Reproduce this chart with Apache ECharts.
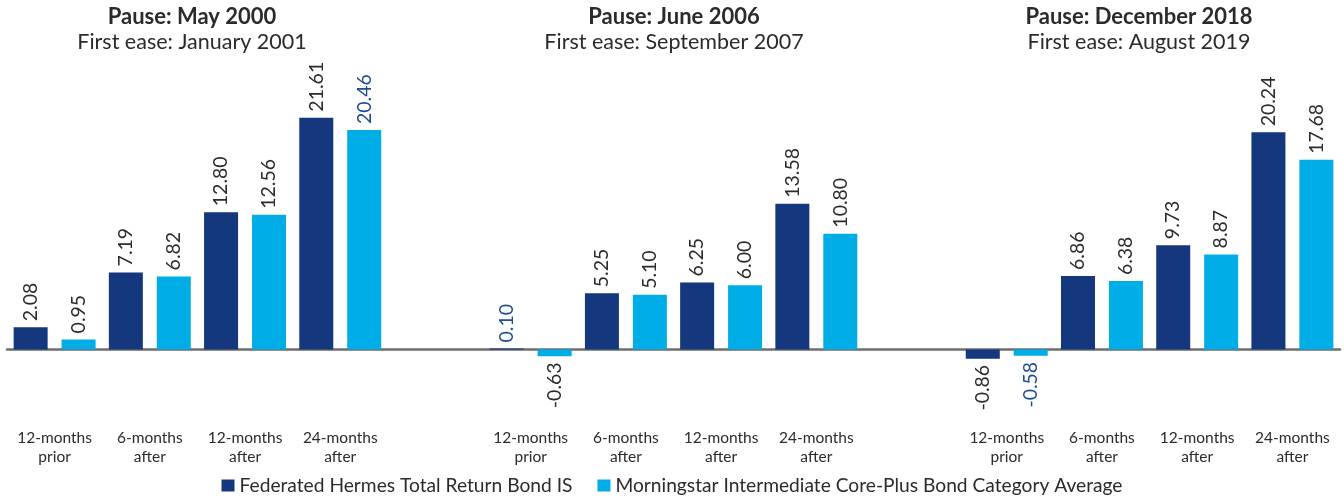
<!DOCTYPE html>
<html>
<head>
<meta charset="utf-8">
<script src="https://cdn.jsdelivr.net/npm/echarts@6/dist/echarts.min.js"></script>
<style>
  html, body { margin: 0; padding: 0; background: #fff; }
  #chart { width: 1344px; height: 501px; }
</style>
</head>
<body>
<div id="chart"></div>
<script>
// ---- Data ----
const categories = [
  '12-months\nprior', '6-months\nafter', '12-months\nafter', '24-months\nafter', '',
  '12-months\nprior', '6-months\nafter', '12-months\nafter', '24-months\nafter', '',
  '12-months\nprior', '6-months\nafter', '12-months\nafter', '24-months\nafter'
];
const fundName = 'Federated Hermes Total Return Bond IS';
const avgName = 'Morningstar Intermediate Core-Plus Bond Category Average';
const fundValues = [2.08, 7.19, 12.80, 21.61, null, 0.10, 5.25, 6.25, 13.58, null, -0.86, 6.86, 9.73, 20.24];
const avgValues  = [0.95, 6.82, 12.56, 20.46, null, -0.63, 5.10, 6.00, 10.80, null, -0.58, 6.38, 8.87, 17.68];
const groupTitles = ['Pause: May 2000', 'Pause: June 2006', 'Pause: December 2018'];
const groupSubtitles = ['First ease: January 2001', 'First ease: September 2007', 'First ease: August 2019'];
// labels drawn in blue in the reference
const fundBlueLabels = [5];
const avgBlueLabels = [3, 10];

// ---- Styling ----
const FONT = 'Lato';
const NAVY = '#14377D';
const CYAN = '#00ADE6';
const TEXT = '#2b2b2b';
const LABEL_BLUE = '#1F4B93';

function buildData(values, blueIdx) {
  return values.map((v, i) => {
    if (v === null) return '-';
    const neg = v < 0;
    return {
      value: v,
      label: {
        show: true,
        position: neg ? 'bottom' : 'top',
        rotate: 90,
        align: neg ? 'right' : 'left',
        verticalAlign: 'middle',
        distance: 6,
        color: blueIdx.includes(i) ? LABEL_BLUE : TEXT,
        fontFamily: FONT,
        fontSize: 19.5,
        formatter: (p) => Number(p.value).toFixed(2)
      }
    };
  });
}

const titleCenters = [187, 669, 1134];
const titles = groupTitles.map((t, i) => ({
  text: t,
  subtext: groupSubtitles[i],
  left: titleCenters[i],
  top: 1,
  textAlign: 'center',
  itemGap: 3,
  textStyle: { fontFamily: FONT, fontSize: 22, fontWeight: 'bold', color: TEXT },
  subtextStyle: { fontFamily: FONT, fontSize: 21.5, color: TEXT }
}));

const chart = echarts.init(document.getElementById('chart'), null, { renderer: 'canvas' });
chart.setOption({
  animation: false,
  title: titles,
  legend: {
    bottom: 1,
    left: 'center',
    icon: 'rect',
    itemWidth: 13,
    itemHeight: 12,
    itemGap: 25,
    textStyle: { fontFamily: FONT, fontSize: 19.2, color: TEXT, padding: [0, 0, 0, 0] },
    data: [fundName, avgName]
  },
  grid: { left: 7, right: 4, top: 92, bottom: 87, containLabel: false },
  xAxis: [
    {
      type: 'category',
      data: categories,
      position: 'bottom',
      axisLine: { show: false, onZero: false },
      axisTick: { show: false },
      axisLabel: {
        interval: 0,
        margin: 14,
        fontFamily: FONT,
        fontSize: 15.5,
        lineHeight: 19,
        color: TEXT
      }
    },
    {
      type: 'category',
      data: categories,
      position: 'top',
      axisLine: { show: true, onZero: true, lineStyle: { color: '#6D6E71', width: 2.5 } },
      axisTick: { show: false },
      axisLabel: { show: false }
    }
  ],
  yAxis: {
    type: 'value',
    min: -6,
    max: 24,
    show: false,
    splitLine: { show: false }
  },
  series: [
    {
      name: fundName,
      type: 'bar',
      barWidth: 34,
      barGap: '41%',
      itemStyle: { color: NAVY },
      data: buildData(fundValues, fundBlueLabels)
    },
    {
      name: avgName,
      type: 'bar',
      barWidth: 34,
      barGap: '41%',
      itemStyle: { color: CYAN },
      data: buildData(avgValues, avgBlueLabels)
    }
  ]
});
</script>
</body>
</html>
